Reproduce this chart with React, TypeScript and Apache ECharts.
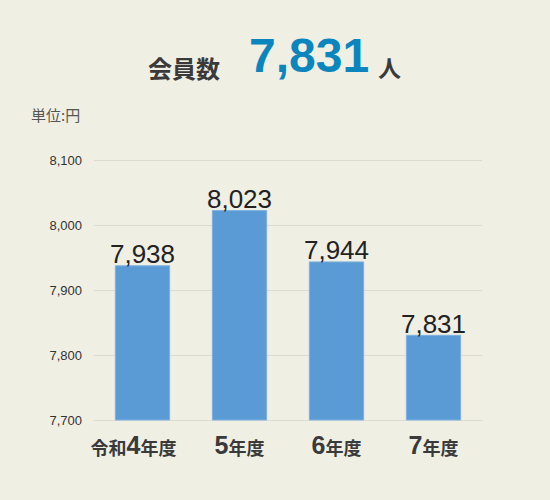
import * as echarts from "echarts";
import { useEffect, useRef } from "react";

const categories = ["令和4年度", "5年度", "6年度", "7年度"];
const members = [7938, 8023, 7944, 7831];
const yTicks = { min: 7700, max: 8100, interval: 100 };
const headline = { label: "会員数", value: "7,831", unit: "人" };
const unitNote = "単位:円";

const SANS = "'Liberation Sans', 'Noto Sans CJK JP', sans-serif";
const CJK = "'Noto Sans CJK JP', sans-serif";

const fmt = (v: number) => v.toLocaleString("en-US");

export default function App() {
  const ref = useRef<HTMLDivElement>(null);

  useEffect(() => {
    document.body.style.margin = "0";
    const chart = echarts.init(ref.current!, null, { renderer: "svg" });
    chart.setOption({
      animation: false,
      backgroundColor: "#f0efe4",
      grid: { left: 94, right: 68, top: 160, bottom: 80 },
      graphic: [
        {
          type: "text",
          left: 148,
          top: 55,
          style: {
            text: headline.label,
            font: `bold 24px ${CJK}`,
            fill: "#3a3a3a",
          },
        },
        {
          type: "text",
          left: 249,
          top: 31,
          style: {
            text: headline.value,
            font: `bold 48px ${SANS}`,
            fill: "#0a85be",
          },
        },
        {
          type: "text",
          left: 378,
          top: 55,
          style: {
            text: headline.unit,
            font: `bold 23px ${CJK}`,
            fill: "#3a3a3a",
          },
        },
        {
          type: "text",
          left: 31,
          top: 107,
          style: {
            text: unitNote,
            font: `15px ${CJK}`,
            fill: "#555",
          },
        },
      ],
      xAxis: {
        type: "category",
        data: categories,
        axisLine: { show: true, lineStyle: { color: "#dcdbd2", width: 1 } },
        axisTick: { show: false },
        axisLabel: {
          interval: 0,
          margin: 12,
          formatter: (v: string, i: number) =>
            v
              .split(/(\d+)/)
              .filter((s) => s)
              .map((s) => (/\d/.test(s) ? `{n|${s}}` : `{t|${s}}`))
              .join("") + (i === 0 ? "{s|}" : ""),
          rich: {
            n: { fontSize: 25, fontWeight: "bold", color: "#3a3a3a", fontFamily: SANS },
            t: { fontSize: 18, fontWeight: "bold", color: "#3a3a3a", fontFamily: CJK, padding: [4, 0, 0, 0] },
            s: { width: 18 },
          },
        },
      },
      yAxis: {
        type: "value",
        min: yTicks.min,
        max: yTicks.max,
        interval: yTicks.interval,
        axisLine: { show: false },
        axisTick: { show: false },
        splitLine: { lineStyle: { color: "#dcdbd2", width: 1 } },
        axisLabel: {
          margin: 12,
          color: "#333",
          fontSize: 13,
          fontFamily: SANS,
          formatter: (v: number) => fmt(v),
        },
      },
      series: [
        {
          type: "bar",
          data: members,
          barWidth: "57%",
          itemStyle: { color: "#5b9bd5", borderColor: "#7fb2e0", borderWidth: 1 },
          label: {
            show: true,
            position: "top",
            distance: -2,
            fontSize: 26,
            color: "#222",
            fontFamily: SANS,
            formatter: (p: any) => fmt(p.value),
          },
        },
      ],
    });
    return () => chart.dispose();
  }, []);

  return <div ref={ref} style={{ width: 550, height: 500 }} />;
}
